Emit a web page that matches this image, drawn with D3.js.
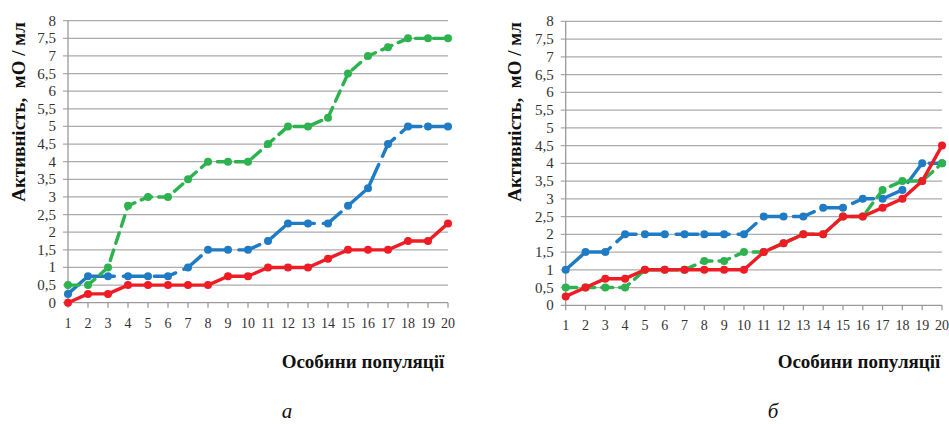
<!DOCTYPE html>
<html>
<head>
<meta charset="utf-8">
<script src="https://cdn.jsdelivr.net/npm/d3@7/dist/d3.min.js"></script>
</head>
<body style="margin:0;background:#fff">
<svg id="chart" width="949" height="424" font-family="Liberation Serif"></svg>
<script>
// Individuals of the population (x categories)
const categories = d3.range(1, 21);
// Y-axis tick values and labels
const yTicks = [0, 0.5, 1, 1.5, 2, 2.5, 3, 3.5, 4, 4.5, 5, 5.5, 6, 6.5, 7, 7.5, 8];
const yTickLabels = ["0", "0,5", "1", "1,5", "2", "2,5", "3", "3,5", "4", "4,5", "5", "5,5", "6", "6,5", "7", "7,5", "8"];

// Panel "а"
const aGreen = [0.5, 0.5, 1, 2.75, 3, 3, 3.5, 4, 4, 4, 4.5, 5, 5, 5.25, 6.5, 7, 7.25, 7.5, 7.5, 7.5];
const aBlue  = [0.25, 0.75, 0.75, 0.75, 0.75, 0.75, 1, 1.5, 1.5, 1.5, 1.75, 2.25, 2.25, 2.25, 2.75, 3.25, 4.5, 5, 5, 5];
const aRed   = [0, 0.25, 0.25, 0.5, 0.5, 0.5, 0.5, 0.5, 0.75, 0.75, 1, 1, 1, 1.25, 1.5, 1.5, 1.5, 1.75, 1.75, 2.25];

// Panel "б"
const bGreen = [0.5, 0.5, 0.5, 0.5, 1, 1, 1, 1.25, 1.25, 1.5, 1.5, 1.75, 2, 2, 2.5, 2.5, 3.25, 3.5, 3.5, 4];
const bBlue  = [1, 1.5, 1.5, 2, 2, 2, 2, 2, 2, 2, 2.5, 2.5, 2.5, 2.75, 2.75, 3, 3, 3.25, 4, 4];
const bRed   = [0.25, 0.5, 0.75, 0.75, 1, 1, 1, 1, 1, 1, 1.5, 1.75, 2, 2, 2.5, 2.5, 2.75, 3, 3.5, 4.5];

const yTitle = "Активність,  мО / мл";
const xTitle = "Особини популяції";

const svg = d3.select("#chart");

const seriesStyle = {
  blue:  { color: "#1f7bc4", dash: "22,9" },
  green: { color: "#2eb24f", dash: "11,7" },
  red:   { color: "#ee1c25", dash: null }
};

function addText(x, y, str, size, opts = {}) {
  return svg.append("text")
    .attr("x", x).attr("y", y)
    .attr("font-family", "Liberation Serif")
    .attr("font-size", size)
    .attr("text-anchor", opts.anchor || "middle")
    .attr("font-weight", opts.weight || null)
    .attr("font-style", opts.style || null)
    .attr("fill", opts.fill || "#111")
    .text(str);
}

function drawPanel(cfg) {
  const x = d3.scalePoint().domain(categories).range([cfg.x0, cfg.x1]);
  const y = d3.scaleLinear().domain([0, 8]).range([cfg.y0, cfg.y1]);

  // horizontal gridlines (extending past the axis as small ticks)
  svg.append("g").selectAll("line").data(yTicks).join("line")
    .attr("x1", cfg.x0 - 5).attr("x2", cfg.x1)
    .attr("y1", d => y(d)).attr("y2", d => y(d))
    .attr("stroke", d => d === 0 ? "#9a9a9a" : "#ababab")
    .attr("stroke-width", 1.3);

  // y axis line
  svg.append("line")
    .attr("x1", cfg.x0).attr("x2", cfg.x0)
    .attr("y1", y(8)).attr("y2", y(0))
    .attr("stroke", "#9a9a9a").attr("stroke-width", 1.3);

  // x ticks
  svg.append("g").selectAll("line").data(categories).join("line")
    .attr("x1", d => x(d)).attr("x2", d => x(d))
    .attr("y1", y(0)).attr("y2", y(0) + 5)
    .attr("stroke", "#9a9a9a").attr("stroke-width", 1.3);

  // tick labels
  yTicks.forEach((v, i) => addText(cfg.x0 - 12, y(v) + 5, yTickLabels[i], 15, { anchor: "end", fill: "#333" }));
  categories.forEach(c => addText(x(c), y(0) + 25, String(c), 14, { fill: "#333" }));

  // series
  const line = d3.line().x((d, i) => x(categories[i])).y(d => y(d));
  cfg.series.forEach(s => {
    const st = seriesStyle[s.key];
    svg.append("path").datum(s.values)
      .attr("d", line)
      .attr("fill", "none")
      .attr("stroke", st.color)
      .attr("stroke-width", 3.4)
      .attr("stroke-linejoin", "round")
      .attr("stroke-linecap", "round")
      .attr("stroke-dasharray", st.dash);
    svg.append("g").selectAll("circle").data(s.values).join("circle")
      .attr("cx", (d, i) => x(categories[i]))
      .attr("cy", d => y(d))
      .attr("r", 4)
      .attr("fill", st.color);
  });

  // axis titles and caption
  addText(0, 0, yTitle, 19, { weight: "bold" })
    .attr("x", null).attr("y", null)
    .attr("xml:space", "preserve")
    .attr("transform", `translate(${cfg.yTitleX},${cfg.yTitleY}) rotate(-90)`);
  addText(cfg.xTitleX, 368, xTitle, 19, { weight: "bold" });
  addText(cfg.captionX, 418, cfg.caption, 21, { style: "italic" });
}

drawPanel({
  x0: 68, x1: 448, y0: 302.7, y1: 20.7,
  yTitleX: 25, yTitleY: 112, xTitleX: 363, captionX: 287, caption: "а",
  series: [
    { key: "blue", values: aBlue },
    { key: "green", values: aGreen },
    { key: "red", values: aRed }
  ]
});

drawPanel({
  x0: 565.7, x1: 942, y0: 305.3, y1: 21.3,
  yTitleX: 521, yTitleY: 112, xTitleX: 859, captionX: 773, caption: "б",
  series: [
    { key: "blue", values: bBlue },
    { key: "green", values: bGreen },
    { key: "red", values: bRed }
  ]
});
</script>
</body>
</html>
